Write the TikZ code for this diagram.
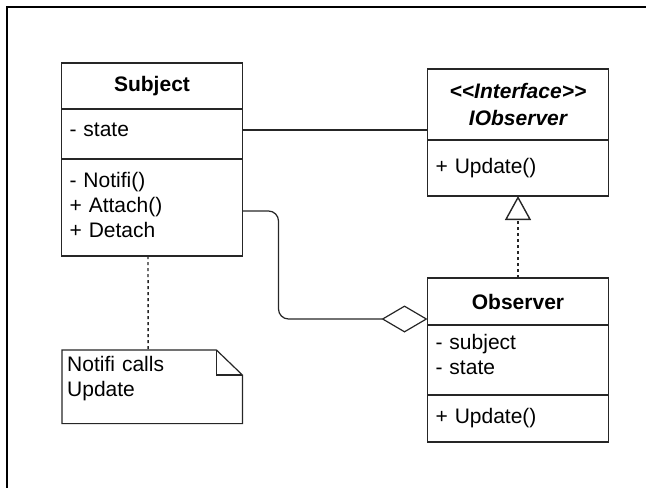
\documentclass[tikz,border=0pt]{standalone}
\usepackage{fontspec}
\setmainfont{Liberation Sans}
\usepackage{tikz}
\usetikzlibrary{positioning, arrows.meta}
\newcommand{\umlfont}{\fontsize{21}{25}\selectfont}
\tikzset{umlbox/.style={draw=black!85, line width=1.2pt, minimum width=181pt, outer sep=0pt, font=\umlfont}}
\tikzset{umlhead/.style={umlbox, align=center}}
\tikzset{umlpart/.style={umlbox, text width=165pt, inner xsep=8pt, align=left}}
\tikzset{notebox/.style={text width=170pt, inner xsep=5pt, inner ysep=6pt, align=left, font=\umlfont}}
\tikzset{umlline/.style={draw=black!85, line width=1.2pt}}
\tikzset{dashline/.style={umlline, line width=1.4pt, dash pattern=on 3pt off 3pt}}

\begin{document}
\begin{tikzpicture}[x=1pt, y=-1pt]
\useasboundingbox (0,0) rectangle (646,488);
\draw[line width=2pt] (646,7) -- (7,7) -- (7,488);

% Subject
\node[umlhead, minimum height=46pt] (subj) at (152,86) {\textbf{Subject}};
\node[umlpart, minimum height=50pt, text depth=8.5pt, below=0pt of subj] (subjattr) {- state};
\node[umlpart, minimum height=97pt, text depth=56pt, below=0pt of subjattr] (subjmeth) {- Notifi()\\+ Attach()\\+ Detach};

% IObserver
\node[umlhead, minimum height=71pt, font=\umlfont\bfseries\itshape] (iobs) at (518,104.5) {<{}<Interface>{}>\\[2pt]IObserver};
\node[umlpart, minimum height=56pt, below=0pt of iobs] (iobsmeth) {+ Update()};

% Observer
\node[umlhead, minimum height=47pt] (obs) at (518,301.5) {\textbf{Observer}};
\node[umlpart, minimum height=70pt, text depth=36pt, below=0pt of obs] (obsattr) {- subject\\- state};
\node[umlpart, minimum height=47pt, below=0pt of obsattr] (obsmeth) {+ Update()};

% note
\node[notebox, text depth=46pt, anchor=north west] (note) at (62,350) {Notifi calls\\Update};
\draw[umlline] (note.north west) -- ([xshift=-26pt]note.north east) -- ([yshift=-25pt]note.north east) -- (note.south east) -- (note.south west) -- cycle;
\draw[umlline] ([xshift=-26pt]note.north east) -- ([xshift=-26pt, yshift=-25pt]note.north east) -- ([yshift=-25pt]note.north east);

\draw[umlline] ([yshift=4pt]subjattr.east) -- ([yshift=4pt]subjattr.east -| iobs.west);
\draw[umlline, rounded corners=10pt, -{Diamond[open, length=46pt, width=27pt]}] ([yshift=-3.5pt]subjmeth.east) -- ++(36,0) |- ([yshift=-17.5pt]obs.west);
\draw[dashline, -{Triangle[open, length=24pt, width=26pt]}] (obs.north) -- (iobsmeth.south);
\draw[dashline] ([xshift=-4pt]subjmeth.south) -- ([xshift=-4pt]note.north);
\end{tikzpicture}
\end{document}
